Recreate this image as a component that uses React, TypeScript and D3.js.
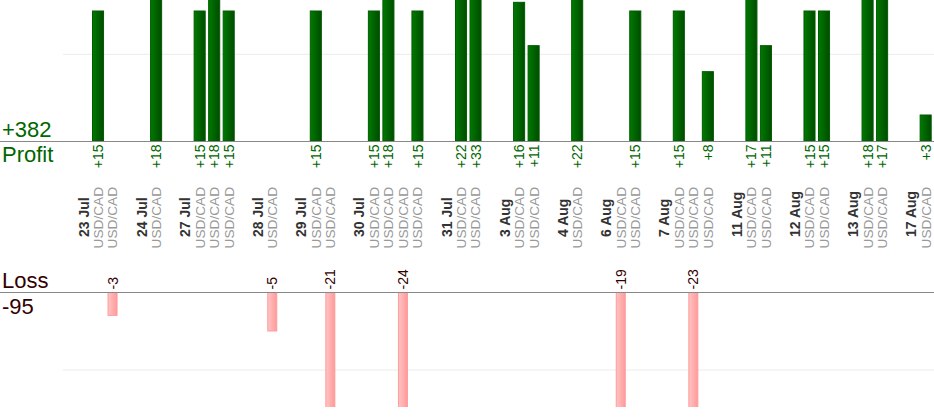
import React from 'react';
import * as d3 from 'd3';

const days = ['23 Jul', '24 Jul', '27 Jul', '28 Jul', '29 Jul', '30 Jul', '31 Jul', '3 Aug', '4 Aug', '6 Aug', '7 Aug', '11 Aug', '12 Aug', '13 Aug', '17 Aug'];
const dayResults: number[][] = [
  [15, -3],
  [18],
  [15, 18, 15],
  [-5],
  [15, -21],
  [15, 18, -24, 15],
  [22, 33],
  [16, 11],
  [22],
  [-19, 15],
  [15, -23, 8],
  [17, 11],
  [15, 15],
  [18, 17],
  [3],
];
const symbol = 'USD/CAD';
const profitTotalLabel = '+382';
const lossTotalLabel = '-95';
const gridValue = 10;

type Slot = { kind: 'date' | 'trade' | 'gap'; label?: string; value?: number };

const slots: Slot[] = [];
days.forEach((d, i) => {
  slots.push({ kind: 'date', label: d });
  dayResults[i].forEach((v) => slots.push({ kind: 'trade', value: v, label: symbol }));
  slots.push({ kind: 'gap' });
});

const W = 934;
const H = 420;
const step = 14.52;
const x0 = 76.24;

const x = d3
  .scaleBand<number>()
  .domain(slots.map((_, i) => i))
  .range([x0, x0 + step * slots.length])
  .paddingInner(0.17)
  .paddingOuter(0.085);

const yProfit = d3.scaleLinear().domain([0, gridValue]).range([141, 54.33]);
const yLoss = d3.scaleLinear().domain([0, gridValue]).range([292, 370]);

const FONT = 'Arial, "Liberation Sans", sans-serif';

export default function App() {
  const centers = slots.map((_, i) => (x(i) as number) + x.bandwidth() / 2);
  const bw = x.bandwidth();
  const lossW = 10;
  return (
    <div style={{ position: 'fixed', left: 0, top: 0, width: W, height: H, background: '#fff', overflow: 'hidden' }}>
      <svg width={W} height={H} style={{ display: 'block', fontFamily: FONT }}>
        <defs>
          <linearGradient id="gGreen" x1="0" x2="1" y1="0" y2="0">
            <stop offset="0" stopColor="#007a00" />
            <stop offset="1" stopColor="#004c00" />
          </linearGradient>
          <linearGradient id="gRed" x1="0" x2="1" y1="0" y2="0">
            <stop offset="0" stopColor="#ffc4c4" />
            <stop offset="1" stopColor="#ff9a9a" />
          </linearGradient>
          <clipPath id="lossClip">
            <rect x={0} y={292} width={W} height={115} />
          </clipPath>
        </defs>

        {/* grid lines */}
        <line x1={63} x2={W} y1={yProfit(gridValue)} y2={yProfit(gridValue)} stroke="#ebebeb" strokeWidth={1} />
        <line x1={63} x2={W} y1={yLoss(gridValue)} y2={yLoss(gridValue)} stroke="#ebebeb" strokeWidth={1} />

        {/* profit bars */}
        {slots.map((s, i) =>
          s.kind === 'trade' && (s.value as number) > 0 ? (
            <rect
              key={'p' + i}
              x={(x(i) as number) + 0.5}
              y={yProfit(s.value as number)}
              width={bw - 1}
              height={yProfit(0) - yProfit(s.value as number)}
              fill="url(#gGreen)"
              stroke="#005c00"
              strokeWidth={1}
            />
          ) : null
        )}

        {/* loss bars */}
        <g clipPath="url(#lossClip)">
          {slots.map((s, i) =>
            s.kind === 'trade' && (s.value as number) < 0 ? (
              <rect
                key={'l' + i}
                x={centers[i] - lossW / 2 + 0.5}
                y={yLoss(0)}
                width={lossW - 1}
                height={yLoss(-(s.value as number)) - yLoss(0)}
                fill="url(#gRed)"
                stroke="#ff9c9c"
                strokeWidth={1}
              />
            ) : null
          )}
        </g>

        {/* axis lines */}
        <line x1={0} x2={W} y1={yProfit(0) + 0.5} y2={yProfit(0) + 0.5} stroke="#888" strokeWidth={1} />
        <line x1={0} x2={W} y1={yLoss(0) + 0.5} y2={yLoss(0) + 0.5} stroke="#888" strokeWidth={1} />

        {/* profit value labels */}
        {slots.map((s, i) =>
          s.kind === 'trade' && (s.value as number) > 0 ? (
            <text
              key={'pv' + i}
              transform={`translate(${centers[i]},${yProfit(0) + 3.5}) rotate(-90)`}
              dy="0.36em"
              textAnchor="end"
              fontSize={14}
              fill="#006600"
            >
              {'+' + s.value}
            </text>
          ) : null
        )}

        {/* loss value labels */}
        {slots.map((s, i) =>
          s.kind === 'trade' && (s.value as number) < 0 ? (
            <text
              key={'lv' + i}
              transform={`translate(${centers[i]},${yLoss(0) - 2.5}) rotate(-90)`}
              dy="0.36em"
              textAnchor="start"
              fontSize={14}
              fill="#330000"
            >
              {String(s.value)}
            </text>
          ) : null
        )}

        {/* date / symbol labels */}
        {slots.map((s, i) =>
          s.kind === 'date' ? (
            <text
              key={'d' + i}
              transform={`translate(${centers[i]},237) rotate(-90)`}
              dy="0.36em"
              textAnchor="start"
              fontSize={14}
              fontWeight="bold"
              fill="#333"
            >
              {s.label}
            </text>
          ) : s.kind === 'trade' ? (
            <text
              key={'s' + i}
              transform={`translate(${centers[i]},248.5) rotate(-90)`}
              dy="0.36em"
              textAnchor="start"
              fontSize={13.7}
              fill="#999"
            >
              {s.label}
            </text>
          ) : null
        )}

        {/* totals */}
        <text x={2} y={137} fontSize={22} fill="#006600">{profitTotalLabel}</text>
        <text x={2} y={162} fontSize={22} fill="#006600">Profit</text>
        <text x={2} y={288} fontSize={22} fill="#330000">Loss</text>
        <text x={2} y={314} fontSize={22} fill="#330000">{lossTotalLabel}</text>
      </svg>
    </div>
  );
}
